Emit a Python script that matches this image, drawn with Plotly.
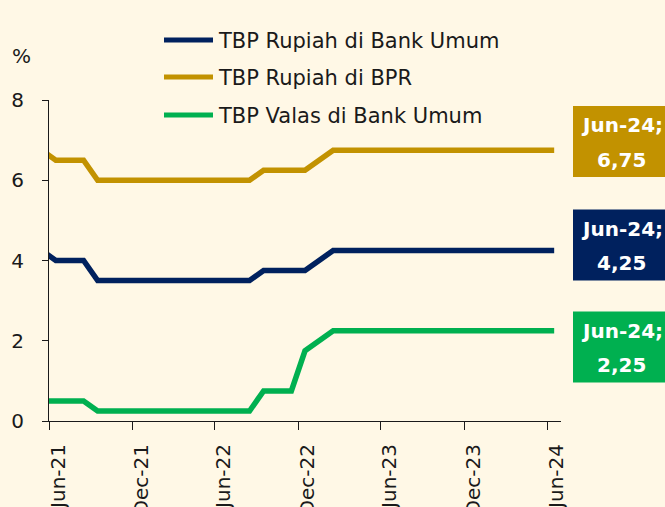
import plotly.graph_objects as go
import pandas as pd

months = ["May-21", "Jun-21", "Jul-21", "Aug-21", "Sep-21", "Oct-21", "Nov-21", "Dec-21",
          "Jan-22", "Feb-22", "Mar-22", "Apr-22", "May-22", "Jun-22", "Jul-22", "Aug-22",
          "Sep-22", "Oct-22", "Nov-22", "Dec-22", "Jan-23", "Feb-23", "Mar-23", "Apr-23",
          "May-23", "Jun-23", "Jul-23", "Aug-23", "Sep-23", "Oct-23", "Nov-23", "Dec-23",
          "Jan-24", "Feb-24", "Mar-24", "Apr-24", "May-24", "Jun-24"]

rupiah_bank_umum = [4.25, 4.0, 4.0, 4.0,
                    3.5, 3.5, 3.5, 3.5, 3.5, 3.5, 3.5, 3.5, 3.5, 3.5, 3.5, 3.5,
                    3.75, 3.75, 3.75, 3.75, 4.0,
                    4.25, 4.25, 4.25, 4.25, 4.25, 4.25, 4.25, 4.25, 4.25, 4.25, 4.25,
                    4.25, 4.25, 4.25, 4.25, 4.25, 4.25]
rupiah_bpr = [6.75, 6.5, 6.5, 6.5,
              6.0, 6.0, 6.0, 6.0, 6.0, 6.0, 6.0, 6.0, 6.0, 6.0, 6.0, 6.0,
              6.25, 6.25, 6.25, 6.25, 6.5,
              6.75, 6.75, 6.75, 6.75, 6.75, 6.75, 6.75, 6.75, 6.75, 6.75, 6.75,
              6.75, 6.75, 6.75, 6.75, 6.75, 6.75]
valas_bank_umum = [0.5, 0.5, 0.5, 0.5,
                   0.25, 0.25, 0.25, 0.25, 0.25, 0.25, 0.25, 0.25, 0.25, 0.25, 0.25, 0.25,
                   0.75, 0.75, 0.75, 1.75, 2.0,
                   2.25, 2.25, 2.25, 2.25, 2.25, 2.25, 2.25, 2.25, 2.25, 2.25, 2.25,
                   2.25, 2.25, 2.25, 2.25, 2.25, 2.25]

series_names = ["TBP Rupiah di Bank Umum", "TBP Rupiah di BPR", "TBP Valas di Bank Umum"]
series_values = [rupiah_bank_umum, rupiah_bpr, valas_bank_umum]
colors = ["#00215E", "#C29200", "#00B050"]

FONT = "DejaVu Sans"
BG = "#FFF8E6"
TXT = "#1a1a1a"

x = pd.to_datetime(months, format="%b-%y") + pd.Timedelta(days=15)

fig = go.Figure()
for name, vals, col in zip(series_names, series_values, colors):
    fig.add_trace(go.Scatter(x=x, y=vals, mode="lines", name=name,
                             line=dict(color=col, width=5.5), showlegend=False,
                             hoverinfo="skip"))

W, H = 665, 507
PL, PR, PT, PB = 49, 561, 100, 421           # plot area in pixels
pw, ph = PR - PL, PB - PT


def px(xp):
    return (xp - PL) / pw


def py(yp):
    return (PB - yp) / ph


shapes = []
annotations = []
legend_rows = [40, 77, 115]
for name, col, row in zip(series_names, colors, legend_rows):
    shapes.append(dict(type="line", xref="paper", yref="paper",
                       x0=px(164), x1=px(213), y0=py(row), y1=py(row),
                       line=dict(color=col, width=5)))
    annotations.append(dict(xref="paper", yref="paper", x=px(216), y=py(row + 1),
                            xanchor="left", yanchor="middle", showarrow=False,
                            text=name, font=dict(family=FONT, size=21, color=TXT)))

box_centers = [141.5, 245, 347]
order = [1, 0, 2]
for idx, cy in zip(order, box_centers):
    v = series_values[idx][-1]
    shapes.append(dict(type="rect", xref="paper", yref="paper",
                       x0=px(573), x1=px(668), y0=py(cy - 35.5), y1=py(cy + 35.5),
                       fillcolor=colors[idx], line=dict(width=0)))
    annotations.append(dict(xref="paper", yref="paper", x=px(621.5), y=py(cy - 16),
                            xanchor="center", yanchor="middle", showarrow=False,
                            text=f"<b>{months[-1]};</b>",
                            font=dict(family=FONT, size=20, color="white")))
    annotations.append(dict(xref="paper", yref="paper", x=px(621.5), y=py(cy + 18),
                            xanchor="center", yanchor="middle", showarrow=False,
                            text=f"<b>{v:.2f}</b>".replace(".", ","),
                            font=dict(family=FONT, size=20, color="white")))

annotations.append(dict(xref="paper", yref="paper", x=px(21), y=py(56),
                        xanchor="center", yanchor="middle", showarrow=False,
                        text="%", font=dict(family=FONT, size=20, color=TXT)))

fig.update_layout(
    width=W, height=H,
    margin=dict(l=PL, r=W - PR, t=PT, b=H - PB, pad=0),
    paper_bgcolor=BG, plot_bgcolor=BG,
    font=dict(family=FONT, size=20, color=TXT),
    shapes=shapes, annotations=annotations,
    xaxis=dict(type="date", range=["2021-06-01", "2024-07-01"], automargin=False,
               tick0="2021-06-01", dtick="M6", tickformat="%b-%y",
               tickangle=-90, ticks="outside", ticklen=8, tickcolor=TXT,
               showline=True, linecolor=TXT, linewidth=1,
               showgrid=False, zeroline=False, ticklabelshift=9,
               ticklabelstandoff=6,
               tickfont=dict(family=FONT, size=20, color=TXT)),
    yaxis=dict(range=[0, 8], dtick=2, ticks="outside", ticklen=6, automargin=False,
               tickcolor=TXT, showline=True, linecolor=TXT,
               linewidth=1, showgrid=False, zeroline=False,
               ticklabelstandoff=14,
               tickfont=dict(family=FONT, size=20, color=TXT)),
)

fig.write_html(
    "out.html",
    config={"displayModeBar": False, "staticPlot": True},
    post_script=("document.body.style.margin='0';"
                 "document.body.style.overflow='hidden';"
                 "document.body.style.background='" + BG + "';"),
)
